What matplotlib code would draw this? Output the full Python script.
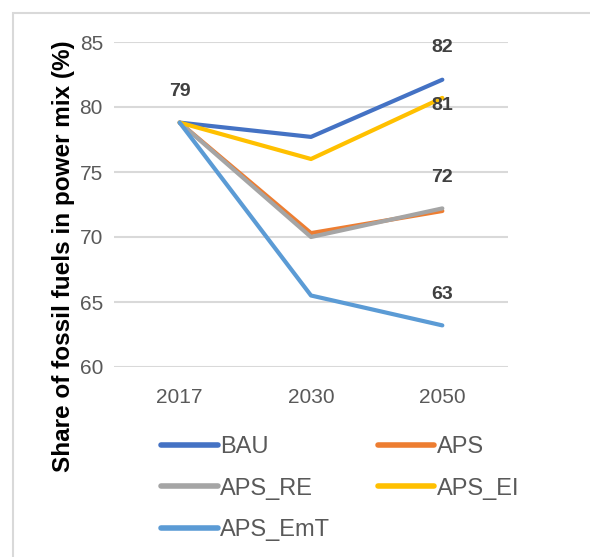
import matplotlib.pyplot as plt
from matplotlib.patches import Rectangle

years = ["2017", "2030", "2050"]
bau = [78.8, 77.7, 82.1]
aps = [78.8, 70.3, 72.0]
aps_re = [78.8, 70.0, 72.2]
aps_ei = [78.8, 76.0, 80.7]
aps_emt = [78.8, 65.5, 63.2]

series = [
    ("BAU", bau, "#4472C4"),
    ("APS", aps, "#ED7D31"),
    ("APS_RE", aps_re, "#A5A5A5"),
    ("APS_EI", aps_ei, "#FFC000"),
    ("APS_EmT", aps_emt, "#5B9BD5"),
]

# data labels: (series values, index, text, pixel offset)
labels = [
    (bau, 0, "79", 31),
    (bau, 2, "82", 32),
    (aps_ei, 2, "81", -8),
    (aps_re, 2, "72", 31),
    (aps_emt, 2, "63", 31),
]

plt.rcParams["font.family"] = ["Liberation Sans", "DejaVu Sans"]

fig = plt.figure(figsize=(5.9, 5.57), dpi=100)
ax = fig.add_axes([114 / 590, 1 - 367 / 557, 394 / 590, 325 / 557])

x = range(len(years))
lines = {}
for name, vals, color in series:
    lines[name], = ax.plot(x, vals, color=color, lw=3, label=name,
                           solid_capstyle="round", solid_joinstyle="round")

for vals, i, txt, off in labels:
    ax.annotate(txt, (i, vals[i]), xytext=(0, off), textcoords="offset pixels",
                ha="center", va="center", fontsize=14, fontweight="bold",
                color="#404040")

ax.set_xlim(-0.5, 2.5)
ax.set_ylim(60, 85)
ax.set_yticks([60, 65, 70, 75, 80, 85])
ax.set_xticks(list(x))
ax.set_xticklabels(years)
ax.grid(axis="y", color="#D9D9D9", lw=1.5)
ax.set_axisbelow(True)
for s in ax.spines.values():
    s.set_visible(False)
ax.tick_params(length=0, labelsize=15, labelcolor="#595959")
ax.tick_params(axis="x", pad=15)
ax.tick_params(axis="y", pad=8)

fig.text(64 / 590, 1 - 256 / 557, "Share of fossil fuels in power mix (%)",
         rotation=90, ha="center", va="center", fontsize=17.5,
         fontweight="bold", color="black")

# row-major order: BAU, APS / APS_RE, APS_EI / APS_EmT
order = ["BAU", "APS_RE", "APS_EmT", "APS", "APS_EI"]
leg = fig.legend([lines[n] for n in order], order, ncol=2, loc="upper left",
                 bbox_to_anchor=(140 / 590, 1 - 415 / 557), frameon=False,
                 fontsize=17, handlelength=2.4, handletextpad=0.1,
                 columnspacing=2.0, labelspacing=0.82, labelcolor="#595959")
for h in leg.get_lines():
    h.set_linewidth(4)

fig.patches.append(Rectangle((13 / 590, -0.1), 1.0, 1.1 - 13 / 557,
                             transform=fig.transFigure, fill=False,
                             edgecolor="#D9D9D9", lw=1.5))

fig.savefig("out.png", dpi=100)
